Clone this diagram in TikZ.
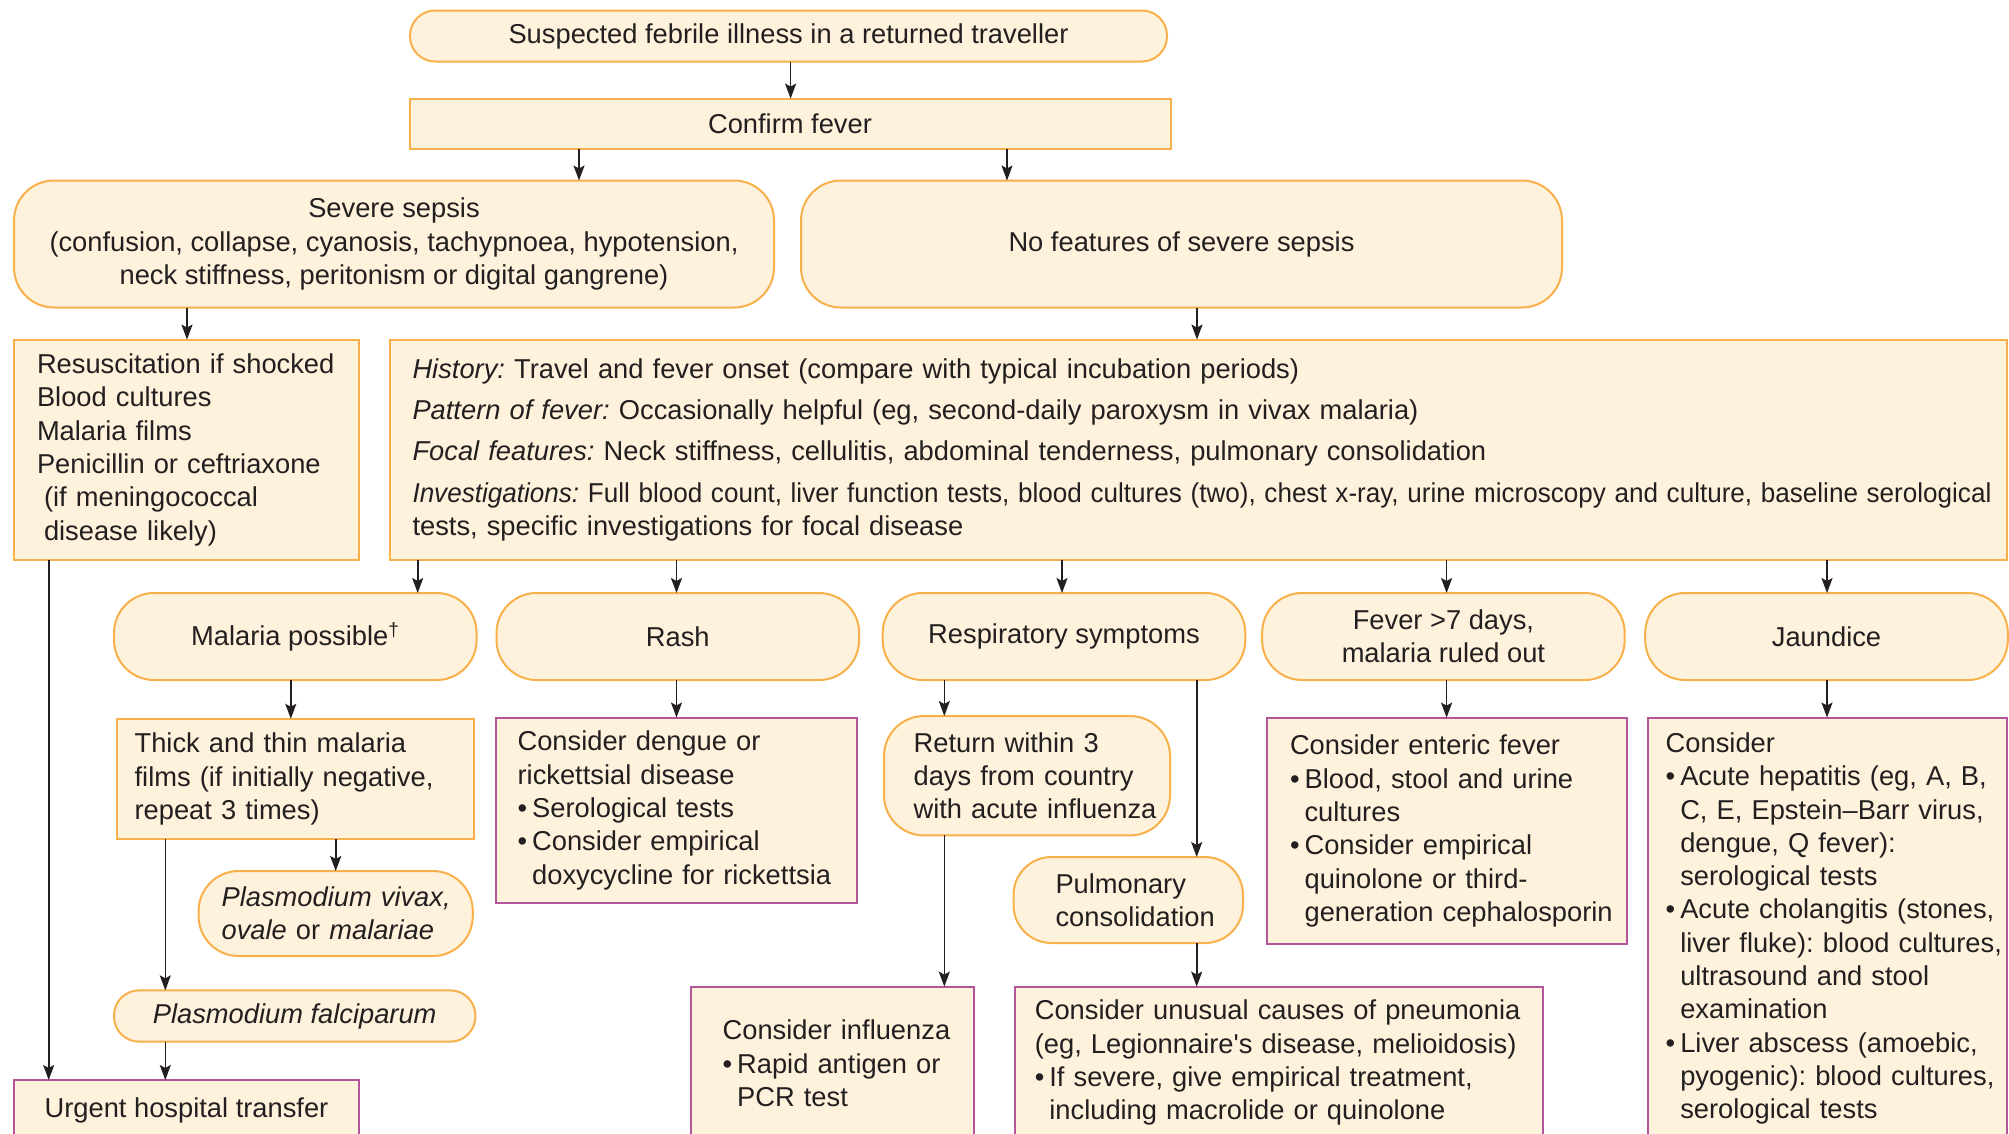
\documentclass[tikz,border=0pt]{standalone}
\usepackage{fontspec}
\usepackage{graphicx}
\setmainfont{Liberation Sans}
\usetikzlibrary{arrows.meta}
\definecolor{cream}{HTML}{FEF2DC}
\definecolor{orng}{HTML}{F8B04A}
\definecolor{purp}{HTML}{B4559C}
\definecolor{ink}{HTML}{231F20}
\newcommand{\bul}{\textbullet\hspace{5pt}}
\newcommand{\bind}{\hphantom{\textbullet\hspace{5pt}}}
\frenchspacing
\begin{document}
\begin{tikzpicture}[x=1pt,y=-1pt,
  base/.style={fill=cream, line width=2pt, text=ink, font=\fontsize{27.3}{33.3}\selectfont\frenchspacing, inner ysep=0pt, outer sep=0pt},
  obox/.style={base, draw=orng, rectangle},
  pbox/.style={base, draw=purp, rectangle},
  rbox/.style={base, draw=orng, rounded corners=#1},
  rbox/.default=40pt,
  sz/.style 2 args={minimum width=#1pt, minimum height=#2pt},
  arr/.style={-{Stealth[length=15pt,width=11pt,inset=3pt]}, line width=1.6pt, draw=ink},
]
\path[use as bounding box] (0,0) rectangle (2009,1133);
\clip (0,0) rectangle (2009,1133);

% top level
\node[rbox=25pt, sz={757}{51}] (top) at (788.5,36) {Suspected febrile illness in a returned traveller};
\node[obox, sz={761}{50}] (conf) at (790,123.6) {Confirm fever};
\node[rbox=40pt, sz={760}{127}, align=center] (sev) at (394,244)
  {Severe sepsis\\(confusion, collapse, cyanosis, tachypnoea, hypotension,\\neck stiffness, peritonism or digital gangrene)};
\node[rbox=40pt, sz={761}{127}] (nof) at (1181.5,244) {No features of severe sepsis};

\node[obox, sz={345}{220.5}, align=left, inner xsep=23pt, text width=299pt] (res) at (186.5,449.8)
  {\mbox{Resuscitation if shocked}\\Blood cultures\\Malaria films\\\mbox{Penicillin or ceftriaxone}\\\hspace*{7pt}(if meningococcal\\\hspace*{7pt}disease likely)};

\node[obox, sz={1617}{220.5}, align=left, inner xsep=23pt, text width=1571pt] (hist) at (1198,449.8)
  {\mbox{{\itshape History:} Travel and fever onset (compare with typical incubation periods)}\\[8pt]
   \mbox{{\itshape Pattern of fever:} Occasionally helpful (eg, second-daily paroxysm in vivax malaria)}\\[8pt]
   \mbox{{\itshape Focal features:} Neck stiffness, cellulitis, abdominal tenderness, pulmonary consolidation}\\[8pt]
   \scalebox{0.955}[1]{{\itshape Investigations:} Full blood count, liver function tests, blood cultures (two), chest x-ray, urine microscopy and culture, baseline serological}\\
   \mbox{tests, specific investigations for focal disease}};

% row of branches
\node[rbox, sz={362.6}{87}] (mal) at (295.3,636.5) {Malaria possible\textsuperscript{\textdagger}};
\node[rbox, sz={362.6}{87}] (rash) at (677.8,636.5) {Rash};
\node[rbox, sz={362.6}{87}] (resp) at (1064,636.5) {Respiratory symptoms};
\node[rbox, sz={362.6}{87}, align=center] (fev) at (1443.4,636.5) {Fever >7 days,\\malaria ruled out};
\node[rbox, sz={362.6}{87}] (jau) at (1826.5,636.5) {Jaundice};

% malaria column
\node[obox, sz={357.4}{120.4}, align=left, inner xsep=18pt, text width=321.4pt] (thick) at (295.3,779)
  {\mbox{Thick and thin malaria}\\\mbox{films (if initially negative,}\\repeat 3 times)};
\node[rbox, sz={274.2}{85}, align=left, inner xsep=23pt, text width=228.2pt] (viv) at (335.7,913.5)
  {\mbox{\textit{Plasmodium vivax,}}\\\mbox{\textit{ovale} or \textit{malariae}}};
\node[rbox=25pt, sz={361.4}{51.3}] (fal) at (294.7,1016) {\textit{Plasmodium falciparum}};
\node[pbox, sz={345}{60}] (urg) at (186.5,1110) {Urgent hospital transfer};

% rash column
\node[pbox, sz={361}{185.8}, align=left, inner xsep=21.6pt, text width=317.8pt] (deng) at (676.5,810.4)
  {\mbox{Consider dengue or}\\\mbox{rickettsial disease}\\\mbox{\bul Serological tests}\\\mbox{\bul Consider empirical}\\\mbox{\bind doxycycline for rickettsia}};

% respiratory column
\node[rbox, sz={286}{119.4}, align=left, inner xsep=29.6pt, text width=226.8pt] (ret) at (1027,775.7)
  {\mbox{Return within 3}\\\mbox{days from country}\\\mbox{with acute influenza}};
\node[rbox=38pt, sz={229.5}{86}, align=left, inner xsep=42pt, text width=145.5pt] (pul) at (1128.25,900)
  {\mbox{Pulmonary}\\\mbox{consolidation}};
\node[pbox, sz={283.2}{153.4}, align=left, inner xsep=32pt, text width=219.2pt] (infl) at (832.2,1063.3)
  {\mbox{Consider influenza}\\\mbox{\bul Rapid antigen or}\\\mbox{\bind PCR test}};
\node[pbox, sz={527.9}{152}, align=left, inner xsep=20pt, text width=487.9pt] (unus) at (1278.75,1062.6)
  {\mbox{Consider unusual causes of pneumonia}\\\mbox{(eg, Legionnaire\textquotesingle s disease, melioidosis)}\\\mbox{\bul If severe, give empirical treatment,}\\\mbox{\bind including macrolide or quinolone}};

% fever column
\node[pbox, sz={360}{226.8}, align=left, inner xsep=23pt, text width=314pt] (ent) at (1447,831)
  {\mbox{Consider enteric fever}\\\mbox{\bul Blood, stool and urine}\\\mbox{\bind cultures}\\\mbox{\bul Consider empirical}\\\mbox{\bind quinolone or third-}\\\mbox{\bind generation cephalosporin}};

% jaundice column
\node[pbox, sz={358.8}{422}, align=left, inner xsep=18pt, text width=322.8pt] (jc) at (1827.1,928.5)
  {Consider\\\mbox{\bul Acute hepatitis (eg, A, B,}\\\mbox{\bind C, E, Epstein\textendash Barr virus,}\\\mbox{\bind dengue, Q fever):}\\\mbox{\bind serological tests}\\\mbox{\bul Acute cholangitis (stones,}\\\mbox{\bind liver fluke): blood cultures,}\\\mbox{\bind ultrasound and stool}\\\mbox{\bind examination}\\\mbox{\bul Liver abscess (amoebic,}\\\mbox{\bind pyogenic): blood cultures,}\\\mbox{\bind serological tests}};

% column coordinates
\coordinate (k0) at (790.6,0);
\coordinate (k1) at (579,0);
\coordinate (k2) at (1007,0);
\coordinate (k3) at (187,0);
\coordinate (k4) at (1197,0);
\coordinate (k5) at (417.7,0);
\coordinate (k6) at (676.5,0);
\coordinate (k7) at (1062,0);
\coordinate (k8) at (1446.6,0);
\coordinate (k9) at (1827,0);
\coordinate (k10) at (290.8,0);
\coordinate (k11) at (944.3,0);
\coordinate (k12) at (1196.7,0);
\coordinate (k13) at (335.7,0);
\coordinate (k14) at (165.3,0);
\coordinate (k15) at (48.7,0);

% connectors
\draw[arr] (top.south -| k0) -- (conf.north -| k0);
\draw[arr] (conf.south -| k1) -- (sev.north -| k1);
\draw[arr] (conf.south -| k2) -- (nof.north -| k2);
\draw[arr] (sev.south -| k3) -- (res.north -| k3);
\draw[arr] (nof.south -| k4) -- (hist.north -| k4);
\draw[arr] (hist.south -| k5) -- (mal.north -| k5);
\draw[arr] (hist.south -| k6) -- (rash.north -| k6);
\draw[arr] (hist.south -| k7) -- (resp.north -| k7);
\draw[arr] (hist.south -| k8) -- (fev.north -| k8);
\draw[arr] (hist.south -| k9) -- (jau.north -| k9);
\draw[arr] (mal.south -| k10) -- (thick.north -| k10);
\draw[arr] (rash.south -| k6) -- (deng.north -| k6);
\draw[arr] (fev.south -| k8) -- (ent.north -| k8);
\draw[arr] (jau.south -| k9) -- (jc.north -| k9);
\draw[arr] (resp.south -| k11) -- (ret.north -| k11);
\draw[arr] (ret.south -| k11) -- (infl.north -| k11);
\draw[arr] (resp.south -| k12) -- (pul.north -| k12);
\draw[arr] (pul.south -| k12) -- (unus.north -| k12);
\draw[arr] (thick.south -| k13) -- (viv.north -| k13);
\draw[arr] (thick.south -| k14) -- (fal.north -| k14);
\draw[arr] (fal.south -| k14) -- (urg.north -| k14);
\draw[arr] (res.south -| k15) -- (urg.north -| k15);
\end{tikzpicture}
\end{document}
